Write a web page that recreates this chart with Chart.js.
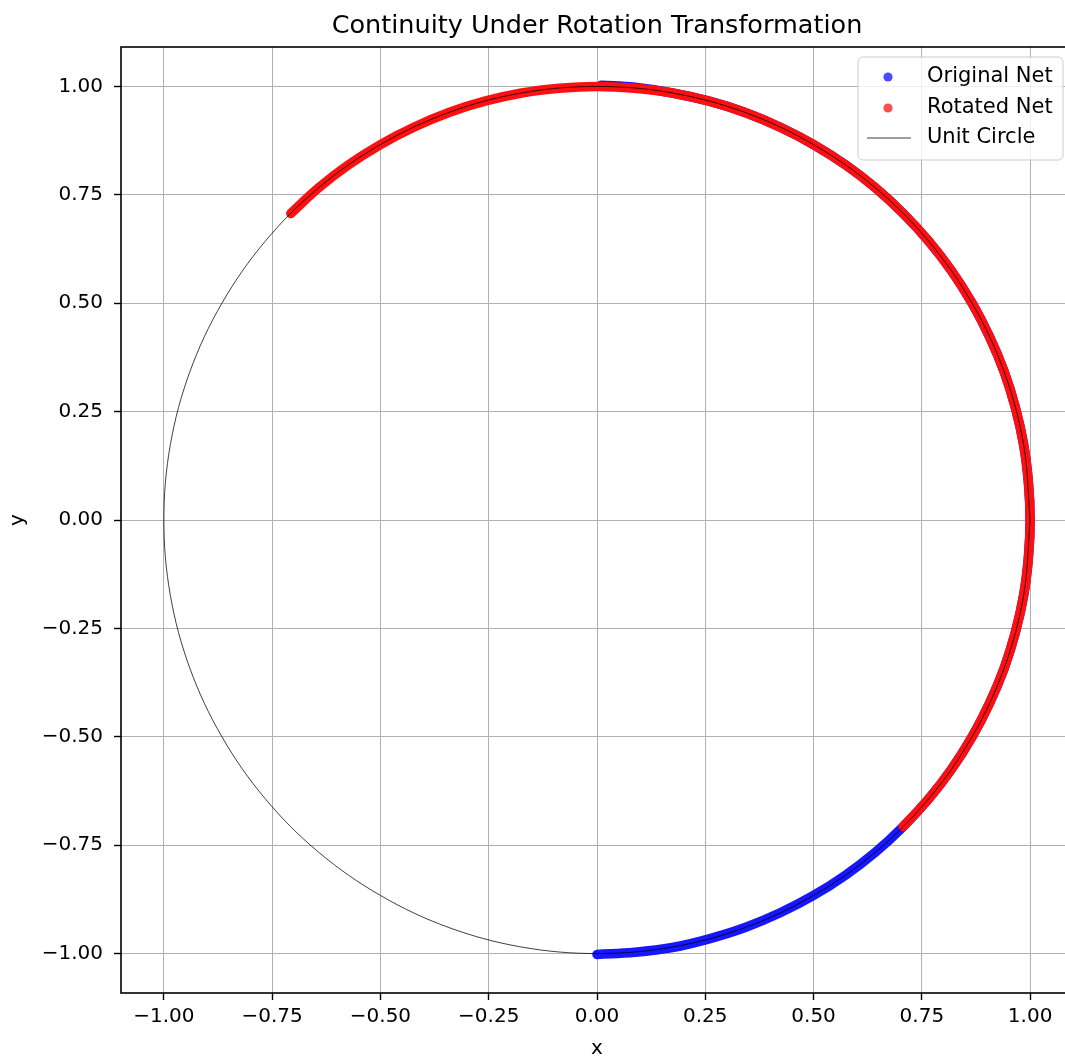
<!DOCTYPE html>
<html>
<head>
<meta charset="utf-8">
<script src="https://cdn.jsdelivr.net/npm/chart.js@4.4.0/dist/chart.umd.min.js"></script>
<style>
  html, body { margin: 0; padding: 0; background: #fff; overflow: hidden; }
  #wrap { width: 1080px; height: 1057px; }
</style>
</head>
<body>
<div id="wrap"><canvas id="chart" width="1080" height="1057"></canvas></div>
<script>
// Original net: lower-right half of the circle, from (0,-1) up to (0,1)
const origX = [0.000, 0.087, 0.174, 0.259, 0.342, 0.423, 0.500, 0.574, 0.643, 0.707,
               0.766, 0.819, 0.866, 0.906, 0.940, 0.966, 0.985, 0.996, 1.000, 0.996,
               0.985, 0.966, 0.940, 0.906, 0.866, 0.819, 0.766, 0.707, 0.643, 0.574,
               0.500, 0.423, 0.342, 0.259, 0.174, 0.087, 0.010];
const origY = [-1.002, -0.997, -0.986, -0.966, -0.940, -0.906, -0.866, -0.819, -0.766, -0.707,
               -0.643, -0.574, -0.500, -0.423, -0.342, -0.259, -0.174, -0.087, 0.000, 0.087,
               0.174, 0.259, 0.342, 0.423, 0.500, 0.574, 0.643, 0.707, 0.766, 0.819,
               0.866, 0.906, 0.940, 0.966, 0.985, 0.998, 1.003];

// Rotated net: same arc turned by 45 degrees, from (0.71,-0.71) to (-0.71,0.71)
const rotX = [0.707, 0.766, 0.819, 0.866, 0.906, 0.940, 0.966, 0.985, 0.996, 1.000,
              0.996, 0.985, 0.966, 0.940, 0.906, 0.866, 0.819, 0.766, 0.707, 0.643,
              0.574, 0.500, 0.423, 0.342, 0.259, 0.174, 0.087, 0.000, -0.087, -0.174,
              -0.259, -0.342, -0.423, -0.500, -0.574, -0.643, -0.707];
const rotY = [-0.707, -0.643, -0.574, -0.500, -0.423, -0.342, -0.259, -0.174, -0.087, 0.000,
              0.087, 0.174, 0.259, 0.342, 0.423, 0.500, 0.574, 0.643, 0.707, 0.766,
              0.819, 0.866, 0.906, 0.940, 0.966, 0.985, 0.996, 1.000, 0.996, 0.985,
              0.966, 0.940, 0.906, 0.866, 0.819, 0.766, 0.707];

// Unit circle reference line
const circleX = [1.000, 0.985, 0.940, 0.866, 0.766, 0.643, 0.500, 0.342, 0.174, 0.000,
                 -0.174, -0.342, -0.500, -0.643, -0.766, -0.866, -0.940, -0.985, -1.000,
                 -0.985, -0.940, -0.866, -0.766, -0.643, -0.500, -0.342, -0.174, 0.000,
                 0.174, 0.342, 0.500, 0.643, 0.766, 0.866, 0.940, 0.985, 1.000];
const circleY = [0.000, 0.174, 0.342, 0.500, 0.643, 0.766, 0.866, 0.940, 0.985, 1.000,
                 0.985, 0.940, 0.866, 0.766, 0.643, 0.500, 0.342, 0.174, 0.000,
                 -0.174, -0.342, -0.500, -0.643, -0.766, -0.866, -0.940, -0.985, -1.000,
                 -0.985, -0.940, -0.866, -0.766, -0.643, -0.500, -0.342, -0.174, 0.000];

const xTicks = [-1.00, -0.75, -0.50, -0.25, 0.00, 0.25, 0.50, 0.75, 1.00];
const yTicks = [-1.00, -0.75, -0.50, -0.25, 0.00, 0.25, 0.50, 0.75, 1.00];

const titleText = 'Continuity Under Rotation Transformation';
const FONT = '"DejaVu Sans", "Liberation Sans", sans-serif';

function toPoints(xs, ys) {
    return xs.map((x, i) => ({ x: x, y: ys[i] }));
}

function fmtTick(v) {
    return v.toFixed(2).replace('-', '\u2212');
}

// Title, frame and legend drawn inside the axes like the original
const framePlugin = {
    id: 'frame',
    afterDraw(chart) {
        const ctx = chart.ctx;
        const a = chart.chartArea;
        ctx.save();

        ctx.strokeStyle = '#000';
        ctx.lineWidth = 1.6;
        ctx.strokeRect(a.left, a.top, a.right - a.left, a.bottom - a.top);

        ctx.fillStyle = '#000';
        ctx.font = '25.5px ' + FONT;
        ctx.textAlign = 'center';
        ctx.textBaseline = 'middle';
        ctx.fillText(titleText, (a.left + a.right) / 2, 26);

        // legend box
        const bx = 858, by = 57, bw = 205, bh = 103;
        ctx.beginPath();
        ctx.roundRect(bx, by, bw, bh, 5);
        ctx.fillStyle = 'rgba(255,255,255,0.8)';
        ctx.fill();
        ctx.strokeStyle = '#cccccc';
        ctx.lineWidth = 1;
        ctx.stroke();

        const rows = [77, 108, 138];
        const items = chart.data.datasets.slice().sort((p, q) => p.legendIndex - q.legendIndex);
        ctx.font = '21px ' + FONT;
        ctx.textAlign = 'left';
        items.forEach((ds, i) => {
            const y = rows[i];
            if (ds.legendKind === 'point') {
                ctx.beginPath();
                ctx.arc(888, y, 4.6, 0, Math.PI * 2);
                ctx.fillStyle = ds.legendColor;
                ctx.fill();
            } else {
                ctx.beginPath();
                ctx.moveTo(867, y);
                ctx.lineTo(911, y);
                ctx.strokeStyle = ds.borderColor;
                ctx.lineWidth = ds.borderWidth;
                ctx.stroke();
            }
            ctx.fillStyle = '#000';
            ctx.fillText(ds.label, 927, y);
        });

        ctx.restore();
    }
};

const ctx = document.getElementById('chart');
new Chart(ctx, {
    type: 'scatter',
    data: {
        datasets: [
            {
                label: 'Unit Circle',
                data: toPoints(circleX, circleY),
                showLine: true,
                borderColor: 'rgba(0,0,0,0.75)',
                borderWidth: 1,
                tension: 0.35,
                pointRadius: 0,
                order: 0,
                legendIndex: 2,
                legendKind: 'line'
            },
            {
                label: 'Rotated Net',
                data: toPoints(rotX, rotY),
                showLine: true,
                borderColor: 'rgb(255,16,16)',
                backgroundColor: 'rgb(255,16,16)',
                borderWidth: 9.5,
                borderCapStyle: 'round',
                borderJoinStyle: 'round',
                tension: 0.4,
                pointRadius: 0,
                order: 1,
                legendIndex: 1,
                legendKind: 'point',
                legendColor: 'rgba(255,0,0,0.7)'
            },
            {
                label: 'Original Net',
                data: toPoints(origX, origY),
                showLine: true,
                borderColor: 'rgb(22,22,255)',
                backgroundColor: 'rgb(22,22,255)',
                borderWidth: 9.5,
                borderCapStyle: 'round',
                borderJoinStyle: 'round',
                tension: 0.4,
                pointRadius: 0,
                order: 2,
                legendIndex: 0,
                legendKind: 'point',
                legendColor: 'rgba(0,0,255,0.7)'
            }
        ]
    },
    options: {
        responsive: false,
        animation: false,
        devicePixelRatio: 1,
        layout: { padding: { left: 0, top: 47, right: 7, bottom: 0 } },
        plugins: {
            legend: { display: false },
            title: { display: false },
            tooltip: { enabled: false }
        },
        scales: {
            x: {
                type: 'linear',
                min: -1.099,
                max: 1.099,
                afterFit(scale) { scale.height = 64; },
                afterBuildTicks(scale) { scale.ticks = xTicks.map(v => ({ value: v })); },
                grid: { color: '#b0b0b0', lineWidth: 1, tickColor: '#000', tickLength: 7, tickWidth: 1.4 },
                border: { display: false },
                ticks: {
                    color: '#000',
                    padding: 5,
                    maxRotation: 0,
                    autoSkip: false,
                    font: { family: FONT, size: 20 },
                    callback: v => fmtTick(v)
                },
                title: {
                    display: true,
                    text: 'x',
                    color: '#000',
                    font: { family: FONT, size: 20, lineHeight: 0.85 },
                    padding: { top: 0, bottom: 0 }
                }
            },
            y: {
                type: 'linear',
                min: -1.091,
                max: 1.091,
                afterFit(scale) { scale.width = 121; },
                afterBuildTicks(scale) { scale.ticks = yTicks.map(v => ({ value: v })); },
                grid: { color: '#b0b0b0', lineWidth: 1, tickColor: '#000', tickLength: 7, tickWidth: 1.4 },
                border: { display: false },
                ticks: {
                    color: '#000',
                    padding: 11,
                    autoSkip: false,
                    font: { family: FONT, size: 20 },
                    callback: v => fmtTick(v)
                },
                title: {
                    display: true,
                    text: 'y',
                    color: '#000',
                    font: { family: FONT, size: 20, lineHeight: 1.1 },
                    padding: { top: 7, bottom: 0 }
                }
            }
        }
    },
    plugins: [framePlugin]
});
</script>
</body>
</html>
